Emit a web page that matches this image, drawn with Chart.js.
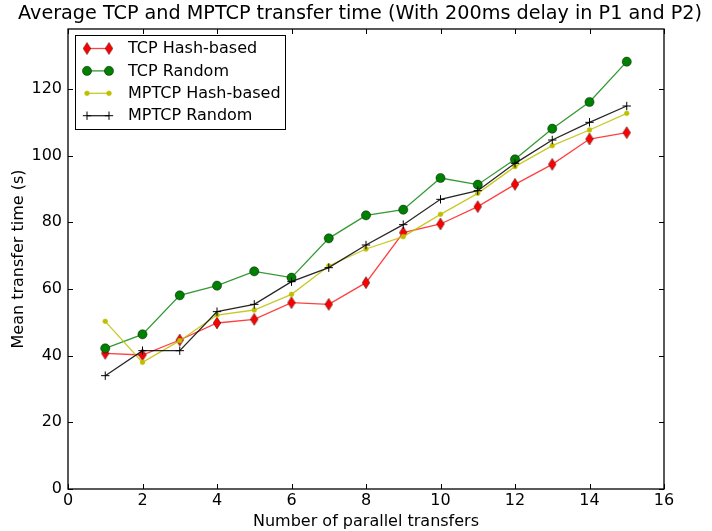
<!DOCTYPE html>
<html>
<head>
<meta charset="utf-8">
<script src="https://cdn.jsdelivr.net/npm/chart.js@4.4.1/dist/chart.umd.min.js"></script>
<style>
    html, body { margin: 0; padding: 0; background: #fff; }
    #wrap { width: 712px; height: 531px; }
</style>
</head>
<body>
<div id="wrap"><canvas id="chart" width="712" height="531"></canvas></div>
<script>
const transfers = [1, 2, 3, 4, 5, 6, 7, 8, 9, 10, 11, 12, 13, 14, 15];
const tcpHash = [40.7, 40.2, 44.7, 49.8, 50.9, 55.9, 55.4, 61.9, 76.9, 79.5, 84.7, 91.4, 97.4, 105.0, 106.9];
const tcpRandom = [42.2, 46.4, 58.1, 61.0, 65.3, 63.4, 75.2, 82.1, 83.8, 93.3, 91.3, 98.9, 108.1, 116.1, 128.2];
const mptcpHash = [50.3, 38.0, 44.5, 52.2, 53.7, 58.4, 66.9, 72.0, 75.7, 82.4, 88.7, 96.7, 103.0, 107.7, 112.7];
const mptcpRandom = [34.0, 41.5, 41.5, 53.2, 55.4, 62.2, 66.4, 73.2, 79.3, 86.9, 89.5, 97.7, 104.7, 110.0, 114.9];
const xTicks = [0, 2, 4, 6, 8, 10, 12, 14, 16];
const yTicks = [0, 20, 40, 60, 80, 100, 120];
const chartTitle = "Average TCP and MPTCP transfer time (With 200ms delay in P1 and P2)";

const FONT = "'DejaVu Sans', sans-serif";

function toPoints(values) {
    return values.map((v, i) => ({ x: transfers[i], y: v }));
}

// thin red diamond like matplotlib 'd'
function diamondImage() {
    const c = document.createElement("canvas");
    c.width = 10;
    c.height = 14;
    const ctx = c.getContext("2d");
    ctx.beginPath();
    ctx.moveTo(5, 1);
    ctx.lineTo(8.8, 7);
    ctx.lineTo(5, 13);
    ctx.lineTo(1.2, 7);
    ctx.closePath();
    ctx.fillStyle = "#ff0000";
    ctx.fill();
    ctx.lineWidth = 0.6;
    ctx.strokeStyle = "rgba(0,0,0,0.7)";
    ctx.stroke();
    return c;
}

const diamond = diamondImage();

const series = [
    {
        label: "TCP Hash-based", data: tcpHash, line: "rgba(255,0,0,0.75)",
        pointStyle: diamond, radius: 6, fill: "#ff0000", edge: "#000", edgeWidth: 0.6, order: 4,
    },
    {
        label: "TCP Random", data: tcpRandom, line: "rgba(0,128,0,0.8)",
        pointStyle: "circle", radius: 4.6, fill: "#008000", edge: "rgba(0,0,0,0.7)", edgeWidth: 0.6, order: 3,
    },
    {
        label: "MPTCP Hash-based", data: mptcpHash, line: "rgba(191,191,0,0.85)",
        pointStyle: "circle", radius: 2.4, fill: "#bfbf00", edge: "#bfbf00", edgeWidth: 0.5, order: 2,
    },
    {
        label: "MPTCP Random", data: mptcpRandom, line: "rgba(0,0,0,0.85)",
        pointStyle: "cross", radius: 4.2, fill: "#000", edge: "#000", edgeWidth: 1, order: 1,
    },
];

const frameAndLegend = {
    id: "frameAndLegend",
    afterDraw(chart) {
        const { ctx, chartArea } = chart;
        const xs = chart.scales.x;
        const ys = chart.scales.y;
        ctx.save();

        ctx.fillStyle = "#000";
        ctx.font = `19.2px ${FONT}`;
        ctx.textAlign = "center";
        ctx.textBaseline = "middle";
        ctx.fillText(chartTitle, 360, 14);

        ctx.strokeStyle = "#000";
        ctx.lineWidth = 1.3;
        ctx.strokeRect(chartArea.left, chartArea.top, chartArea.right - chartArea.left, chartArea.bottom - chartArea.top);

        // inward ticks on all four sides
        ctx.lineWidth = 1;
        ctx.beginPath();
        xTicks.forEach((t) => {
            const px = Math.round(xs.getPixelForValue(t)) + 0.5;
            ctx.moveTo(px, chartArea.bottom);
            ctx.lineTo(px, chartArea.bottom - 5);
            ctx.moveTo(px, chartArea.top);
            ctx.lineTo(px, chartArea.top + 5);
        });
        yTicks.forEach((t) => {
            const py = Math.round(ys.getPixelForValue(t)) + 0.5;
            ctx.moveTo(chartArea.left, py);
            ctx.lineTo(chartArea.left + 5, py);
            ctx.moveTo(chartArea.right, py);
            ctx.lineTo(chartArea.right - 5, py);
        });
        ctx.stroke();

        // legend box
        ctx.fillStyle = "#fff";
        ctx.fillRect(75, 35, 211, 95);
        ctx.strokeStyle = "#000";
        ctx.lineWidth = 1;
        ctx.strokeRect(75.5, 35.5, 210, 94);

        ctx.font = `16px ${FONT}`;
        ctx.textBaseline = "middle";
        ctx.textAlign = "left";
        series.forEach((s, i) => {
            const y = 48.5 + i * 22.4;
            ctx.strokeStyle = s.line;
            ctx.lineWidth = 1.3;
            ctx.beginPath();
            ctx.moveTo(87, y);
            ctx.lineTo(109, y);
            ctx.stroke();
            [87, 109].forEach((x) => {
                if (s.pointStyle === diamond) {
                    ctx.drawImage(diamond, x - diamond.width / 2, y - diamond.height / 2);
                } else if (s.pointStyle === "circle") {
                    ctx.beginPath();
                    ctx.arc(x, y, s.radius, 0, Math.PI * 2);
                    ctx.fillStyle = s.fill;
                    ctx.fill();
                    ctx.lineWidth = s.edgeWidth;
                    ctx.strokeStyle = s.edge;
                    ctx.stroke();
                } else {
                    ctx.beginPath();
                    ctx.moveTo(x - s.radius, y);
                    ctx.lineTo(x + s.radius, y);
                    ctx.moveTo(x, y - s.radius);
                    ctx.lineTo(x, y + s.radius);
                    ctx.lineWidth = 1;
                    ctx.strokeStyle = s.edge;
                    ctx.stroke();
                }
            });
            ctx.fillStyle = "#000";
            ctx.fillText(s.label, 128, y + 0.5);
        });
        ctx.restore();
    },
};

new Chart(document.getElementById("chart"), {
    type: "line",
    data: {
        datasets: series.map((s) => ({
            label: s.label,
            data: toPoints(s.data),
            borderColor: s.line,
            borderWidth: 1.3,
            backgroundColor: s.fill,
            pointStyle: s.pointStyle,
            pointRadius: s.radius,
            pointBackgroundColor: s.fill,
            pointBorderColor: s.edge,
            pointBorderWidth: s.edgeWidth,
            pointHoverRadius: s.radius,
            tension: 0,
            fill: false,
            order: s.order,
        })),
    },
    options: {
        responsive: false,
        animation: false,
        layout: { padding: { top: 29, left: 0, right: 48, bottom: 0 } },
        plugins: {
            legend: { display: false },
            tooltip: { enabled: false },
            title: { display: false },
        },
        scales: {
            x: {
                type: "linear",
                min: 0,
                max: 16,
                afterFit: (s) => { s.height = 42; },
                afterBuildTicks: (s) => { s.ticks = xTicks.map((v) => ({ value: v })); },
                grid: { display: false, drawTicks: false },
                border: { display: false },
                ticks: { color: "#000", padding: 2, maxRotation: 0, font: { family: FONT, size: 16 } },
                title: {
                    display: true,
                    text: "Number of parallel transfers",
                    color: "#000",
                    font: { family: FONT, size: 16 },
                    padding: { top: 0, bottom: 0 },
                },
            },
            y: {
                min: 0,
                max: 138,
                afterFit: (s) => { s.width = 68; },
                afterBuildTicks: (s) => { s.ticks = yTicks.map((v) => ({ value: v })); },
                grid: { display: false, drawTicks: false },
                border: { display: false },
                ticks: { color: "#000", padding: 6, font: { family: FONT, size: 16 } },
                title: {
                    display: true,
                    text: "Mean transfer time (s)",
                    color: "#000",
                    font: { family: FONT, size: 16 },
                    padding: { top: 9, bottom: 0 },
                },
            },
        },
    },
    plugins: [frameAndLegend],
});
</script>
</body>
</html>
